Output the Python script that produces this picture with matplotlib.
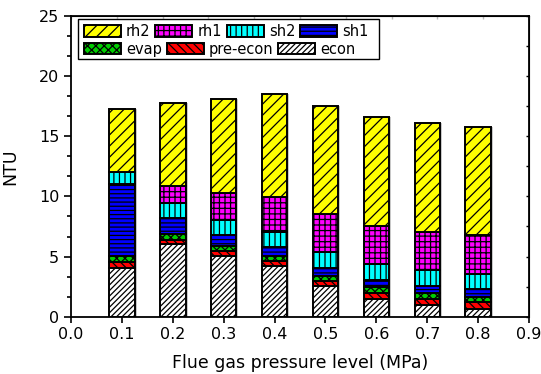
import numpy as np
import matplotlib.pyplot as plt
from matplotlib.ticker import MultipleLocator
from matplotlib.patches import Rectangle

plt.rcParams['font.family'] = ['DejaVu Sans']
plt.rcParams['hatch.linewidth'] = 0.9

# pressure levels (MPa)
pressure = [0.1, 0.2, 0.3, 0.4, 0.5, 0.6, 0.7, 0.8]

# NTU contribution of each heat exchanger section (stacked bottom -> top)
econ = [4.06, 6.06, 5.08, 4.25, 2.58, 1.50, 0.97, 0.64]
pre_econ = [0.47, 0.30, 0.36, 0.42, 0.42, 0.50, 0.53, 0.55]
evap = [0.50, 0.50, 0.42, 0.36, 0.42, 0.44, 0.44, 0.45]
sh1 = [5.97, 1.36, 0.97, 0.78, 0.64, 0.64, 0.64, 0.67]
sh2 = [1.06, 1.25, 1.23, 1.25, 1.33, 1.28, 1.28, 1.25]
rh1 = [0.00, 1.43, 2.24, 2.88, 3.11, 3.22, 3.20, 3.27]
rh2 = [5.19, 6.85, 7.80, 8.56, 9.03, 9.00, 9.05, 8.98]

series = [
    ('econ', econ, 'white', '//////'),
    ('pre-econ', pre_econ, '#ff0000', '\\\\\\\\'),
    ('evap', evap, '#00cc00', 'xxxx'),
    ('sh1', sh1, '#0000ff', '----'),
    ('sh2', sh2, '#00ffff', '|||'),
    ('rh1', rh1, '#ff00ff', '+++'),
    ('rh2', rh2, '#ffff00', '///'),
]

W, H = 541, 374
fig = plt.figure(figsize=(W / 100, H / 100), dpi=100)
ax = fig.add_axes([71 / W, 1 - 316.7 / H, 458 / W, 300.7 / H])

width = 0.05
totals = [sum(v) for v in zip(*[s[1] for s in series])]
# light drop shadow behind each bar
ax.bar([p + 0.004 for p in pressure], totals, width, color='#c8c8c8',
       edgecolor='none', zorder=1)

bottom = [0.0] * len(pressure)
handles = {}
for name, vals, color, hatch in series:
    b = ax.bar(pressure, vals, width, bottom=bottom, color=color,
               edgecolor='black', linewidth=1.4, hatch=hatch, label=name,
               zorder=2)
    handles[name] = b
    bottom = [a + v for a, v in zip(bottom, vals)]

ax.set_xlim(0, 0.9)
ax.set_ylim(0, 25)
ax.set_xticks([0.0, 0.1, 0.2, 0.3, 0.4, 0.5, 0.6, 0.7, 0.8, 0.9])
ax.set_xticklabels(['0.0', '0.1', '0.2', '0.3', '0.4', '0.5', '0.6', '0.7', '0.8', '0.9'])
ax.yaxis.set_major_locator(MultipleLocator(5))
ax.yaxis.set_minor_locator(MultipleLocator(5 / 3))
ax.tick_params(axis='both', which='major', direction='out', length=5,
               width=1.2, labelsize=11.5)
ax.tick_params(axis='x', which='major', length=4.3, pad=3)
ax.tick_params(axis='y', which='minor', direction='out', length=3, width=1.2)
for sp in ax.spines.values():
    sp.set_linewidth(1.3)

# small inward ticks on the right and top frame
sec_y = ax.secondary_yaxis('right')
sec_y.set_yticks(np.arange(0, 25.1, 2.5))
sec_y.tick_params(direction='in', length=2.5, width=1.0, labelright=False)
sec_x = ax.secondary_xaxis('top')
sec_x.set_xticks(np.arange(0, 0.91, 0.09))
sec_x.tick_params(direction='in', length=2.5, width=1.0, color='#bbbbbb',
                  labeltop=False)

ax.set_xlabel('Flue gas pressure level (MPa)', fontsize=12.5)
ax.xaxis.set_label_coords(0.5, -0.125)
ax.set_ylabel('NTU', fontsize=12.5)
ax.yaxis.set_label_coords(-0.112, 0.5)

# legend: two free-flowing rows inside one frame
row1 = ['rh2', 'rh1', 'sh2', 'sh1']
row2 = ['evap', 'pre-econ', 'econ']
leg_kw = dict(loc='center left', fontsize=10.5, frameon=False,
              handlelength=2.53, handleheight=0.82, handletextpad=0.35,
              columnspacing=0.33, borderpad=0, borderaxespad=0,
              bbox_transform=fig.transFigure)
leg1 = ax.legend([handles[n] for n in row1], row1, ncol=4,
                 bbox_to_anchor=(84 / W, 1 - 31.5 / H), **leg_kw)
ax.add_artist(leg1)
leg2 = ax.legend([handles[n] for n in row2], row2, ncol=3,
                 bbox_to_anchor=(84 / W, 1 - 49.2 / H), **leg_kw)
frame = Rectangle((78 / W, 1 - 59 / H), (379 - 78) / W, 40 / H,
                  transform=fig.transFigure, facecolor='white',
                  edgecolor='black', linewidth=1.0, zorder=3, clip_on=False)
ax.add_patch(frame)
leg1.set_zorder(4)
leg2.set_zorder(4)

fig.savefig('out.png', dpi=100)
